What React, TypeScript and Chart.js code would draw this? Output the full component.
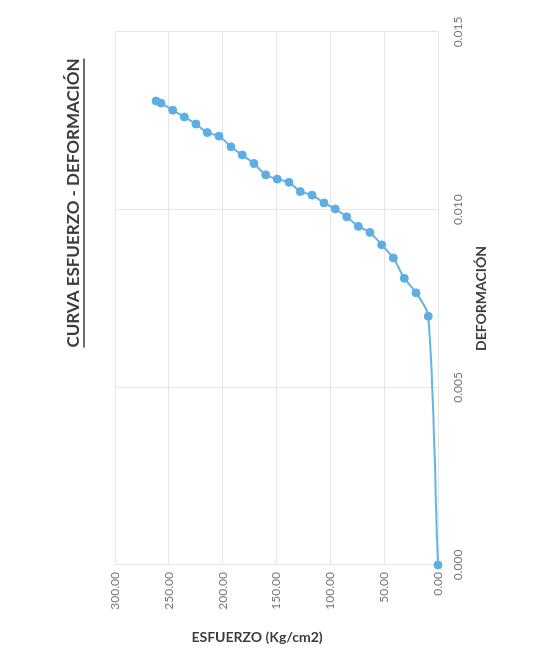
import React, { useEffect, useRef } from "react";
import { Chart, registerables } from "chart.js";

Chart.register(...registerables);

// Data (deformation vs stress)
const deformacion = [
  0, 0.0070, 0.00766, 0.00807, 0.00864, 0.00901, 0.00936, 0.00953, 0.0098,
  0.01002, 0.01019, 0.01041, 0.01051, 0.01077, 0.01086, 0.01098, 0.0113,
  0.01154, 0.01177, 0.01207, 0.01217, 0.01241, 0.01261, 0.0128, 0.013, 0.01306,
];
const esfuerzo = [
  0, 9.0, 20.4, 31.3, 41.5, 52.3, 63.2, 74.0, 84.8, 95.4, 105.9, 117.0, 127.9,
  138.4, 149.3, 160.0, 170.9, 181.8, 192.3, 203.4, 214.3, 224.8, 235.6, 246.4,
  257.3, 261.9,
];
const deformMin = 0;
const deformMax = 0.015;
const deformStep = 0.005;
const esfuerzoMin = 0;
const esfuerzoMax = 300;
const esfuerzoStep = 50;

const chartTitle = "CURVA ESFUERZO - DEFORMACIÓN";
const xTitle = "DEFORMACIÓN";
const yTitle = "ESFUERZO (Kg/cm2)";

const W = 653; // unrotated width (becomes page height)
const H = 548; // unrotated height (becomes page width)

const lineColor = "#66b3e6";
const pointColor = "#5eaee3";
const gridColor = "#e6e6e6";
const tickColor = "#767676";
const titleColor = "#3c3c3c";
const FONT = "Lato, 'Open Sans', sans-serif";

const titlesPlugin = {
  id: "titlesPlugin",
  afterDraw(chart: any) {
    const ctx = chart.ctx as CanvasRenderingContext2D;
    const area = chart.chartArea;
    ctx.save();
    // main title, underlined
    ctx.fillStyle = titleColor;
    ctx.strokeStyle = titleColor;
    ctx.font = `bold 17px ${FONT}`;
    ctx.textAlign = "center";
    ctx.textBaseline = "middle";
    const tx = 450;
    const ty = 74;
    ctx.fillText(chartTitle, tx, ty);
    const tw = ctx.measureText(chartTitle).width;
    ctx.lineWidth = 1.3;
    ctx.beginPath();
    ctx.moveTo(tx - tw / 2, ty + 10);
    ctx.lineTo(tx + tw / 2, ty + 10);
    ctx.stroke();

    // x axis title
    ctx.font = `bold 14px ${FONT}`;
    ctx.fillText(xTitle, (area.left + area.right) / 2, 481);

    // y axis title (reads top-to-bottom in this frame)
    ctx.translate(16, 257);
    ctx.rotate(Math.PI / 2);
    ctx.fillText(yTitle, 0, 0);
    ctx.restore();
  },
};

export default function App() {
  const ref = useRef<HTMLCanvasElement | null>(null);

  useEffect(() => {
    if (!ref.current) return;
    const points = deformacion.map((d, i) => ({ x: d, y: esfuerzo[i] }));
    const chart = new Chart(ref.current, {
      type: "scatter",
      data: {
        datasets: [
          {
            data: points,
            showLine: true,
            clip: false,
            borderColor: lineColor,
            backgroundColor: pointColor,
            borderWidth: 2,
            pointRadius: 4,
            pointBorderWidth: 1,
            pointBorderColor: pointColor,
            tension: 0.3,
          },
        ],
      },
      options: {
        responsive: false,
        animation: false,
        layout: { padding: { top: 115, right: 32, left: 0, bottom: 0 } },
        plugins: {
          legend: { display: false },
          title: { display: false },
          tooltip: { enabled: false },
        },
        scales: {
          x: {
            type: "linear",
            min: deformMin,
            max: deformMax,
            afterFit: (s: any) => {
              s.height = 110;
            },
            ticks: {
              stepSize: deformStep,
              padding: 13,
              color: tickColor,
              font: { family: FONT, size: 12 },
              maxRotation: 0,
              callback: (v: any) => Number(v).toFixed(3),
            },
            grid: { color: gridColor, drawTicks: false },
            border: { color: gridColor },
          },
          y: {
            type: "linear",
            min: esfuerzoMin,
            max: esfuerzoMax,
            afterFit: (s: any) => {
              s.width = 88;
            },
            ticks: {
              stepSize: esfuerzoStep,
              padding: 7,
              color: tickColor,
              font: { family: FONT, size: 12 },
              callback: (v: any) => Number(v).toFixed(2),
            },
            grid: { color: gridColor, drawTicks: false },
            border: { color: gridColor },
          },
        },
      },
      plugins: [titlesPlugin],
    });
    return () => chart.destroy();
  }, []);

  return (
    <div
      style={{
        position: "fixed",
        left: 0,
        top: 0,
        width: W,
        height: H,
        background: "#ffffff",
        transformOrigin: "0 0",
        transform: `translate(0px, ${W}px) rotate(-90deg)`,
      }}
    >
      <canvas ref={ref} width={W} height={H} style={{ width: W, height: H, display: "block" }} />
    </div>
  );
}
